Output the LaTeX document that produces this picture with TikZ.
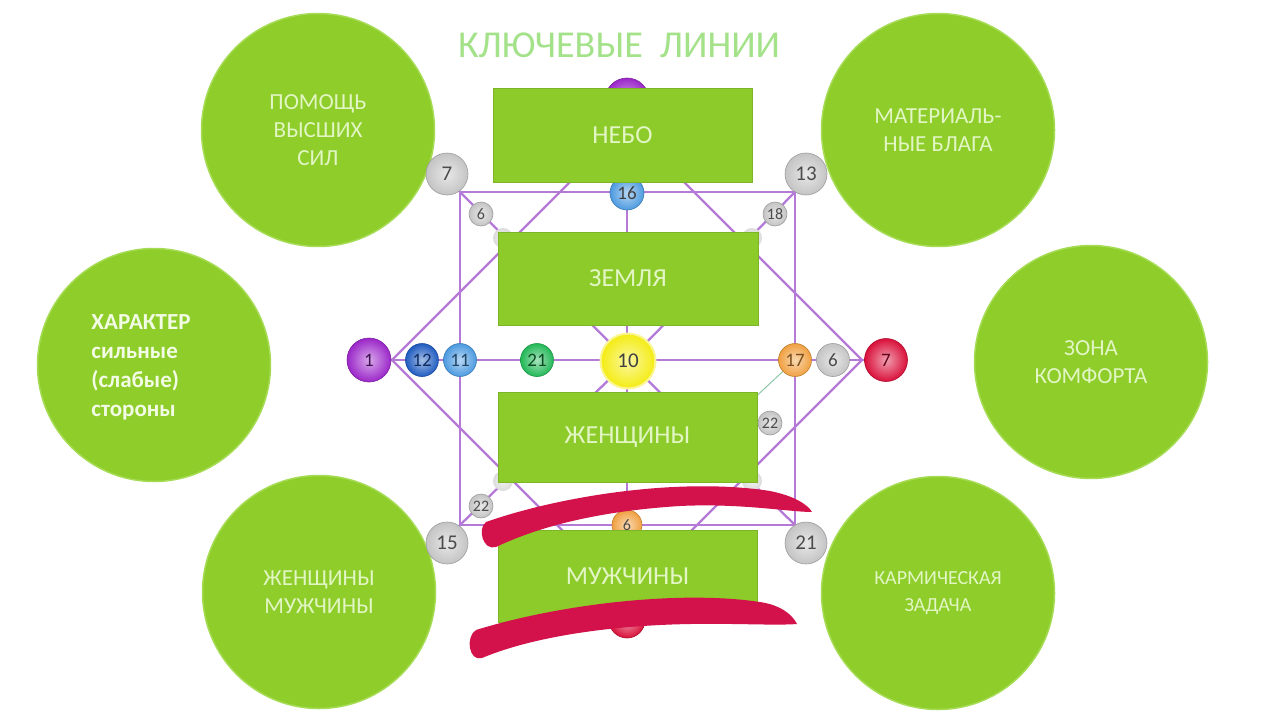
\documentclass[tikz,border=0pt]{standalone}
\usepackage{fontspec}
\setmainfont{Carlito}
\definecolor{cg}{HTML}{8FCD2B}
\definecolor{cgedge}{HTML}{A6DC55}
\definecolor{rg}{HTML}{8DCB2A}
\definecolor{rgedge}{HTML}{7DB528}
\definecolor{ctxt}{HTML}{E2F6C4}
\definecolor{ctxtb}{HTML}{F2FCE4}
\definecolor{pl}{HTML}{B57AD8}
\definecolor{tl}{HTML}{8FC8A8}
\definecolor{ttl}{HTML}{A4E28A}
\definecolor{scr}{HTML}{D3124B}
\definecolor{bgrey}{HTML}{C4C4C4}
\definecolor{bpurple}{HTML}{9B27C9}
\definecolor{bdblue}{HTML}{1F5CC0}
\definecolor{blblue}{HTML}{4C9AE0}
\definecolor{bgreen}{HTML}{22B857}
\definecolor{byellow}{HTML}{F4EC12}
\definecolor{borange}{HTML}{F0A040}
\definecolor{bred}{HTML}{D9103A}
\tikzset{
  bigc/.style={circle, fill=cg, draw=cgedge, line width=1.5pt, minimum size=233pt, inner sep=0pt, text=ctxt, align=center, font=\fontsize{23}{28}\selectfont},
  rectb/.style={rectangle, fill=rg, draw=rgedge, line width=1pt, inner sep=0pt, text=ctxt, font=\fontsize{26}{30}\selectfont},
  pline/.style={draw=pl, line width=2.3pt},
  tline/.style={draw=tl, line width=1pt},
  numball/.style={circle, inner sep=0pt, shading=radial, inner color=#1!40!white, outer color=#1, draw=#1!80!black, line width=0.6pt, font=\fontsize{19}{19}\selectfont},
  scrib/.style={fill=scr},
}
\begin{document}
\begin{tikzpicture}[x=1pt,y=-1pt]
\useasboundingbox (0,0) rectangle (1280,720);
\fill[white] (0,0) rectangle (1280,720);
% coordinates
\coordinate (p1) at (369,360);
\coordinate (p12) at (422,360);
\coordinate (p11) at (460,360);
\coordinate (p21) at (537,360);
\coordinate (p10) at (628,361);
\coordinate (p17) at (795,360);
\coordinate (p6r) at (833,360);
\coordinate (p7r) at (886,360);
\coordinate (sTL) at (460,192);
\coordinate (sTR) at (795,192);
\coordinate (sBL) at (460,525);
\coordinate (sBR) at (795,525);
\coordinate (c7) at (447,174);
\coordinate (c13) at (806,174);
\coordinate (c15) at (447,543);
\coordinate (c21) at (806,543);
\coordinate (dL) at (392,360);
\coordinate (dT) at (627,125);
\coordinate (dR) at (862,360);
\coordinate (dB) at (627,595);
\coordinate (vTop) at (627,100);
\coordinate (p16) at (627,193);
\coordinate (p6b) at (627,525);
\coordinate (vBot) at (627,620);
\coordinate (l6) at (481,214);
\coordinate (l18) at (775,214);
\coordinate (l22a) at (481,506);
\coordinate (l22b) at (770,423);
\coordinate (h1) at (503,238);
\coordinate (h2) at (752,238);
\coordinate (h3) at (503,481);
\coordinate (h4) at (752,481);
\coordinate (tEnd) at (748,404);
% big circles
\node[bigc] (cTL) at (318,130) {ПОМОЩЬ\\ВЫСШИХ\\СИЛ};
\node[bigc] (cML) at (154,365) {};
\node[font=\bfseries\fontsize{23}{29}\selectfont, text=ctxtb, align=left, inner sep=0pt] (cMLt) at (141,367) {ХАРАКТЕР\\сильные\\(слабые)\\стороны};
\node[bigc] (cBL) at (319,592) {ЖЕНЩИНЫ\\МУЖЧИНЫ};
\node[bigc] (cTR) at (938,130) {МАТЕРИАЛЬ-\\НЫЕ БЛАГА};
\node[bigc] (cMR) at (1091,362) {ЗОНА\\КОМФОРТА};
\node[bigc, font=\fontsize{20}{27}\selectfont] (cBR) at (938,593) {КАРМИЧЕСКАЯ\\ЗАДАЧА};
% lines
\draw[pline] (sTL) rectangle (sBR);
\draw[pline] (p1) -- (p7r);
\draw[pline] (dL) -- (dT) -- (dR) -- (dB) -- cycle;
\draw[pline] (vTop) -- (vBot);
\draw[pline] (c7) -- (sTL) -- (p10);
\draw[pline] (c13) -- (sTR) -- (p10);
\draw[pline] (c15) -- (sBL) -- (p10);
\draw[pline] (c21) -- (sBR) -- (p10);
\draw[tline] (p17) -- (tEnd);
% hidden balls
\node[numball=bpurple, minimum size=44pt] (nTop) at (vTop) {};
\node[numball=bred, minimum size=36pt] (nBot) at (vBot) {};
\node[numball=blblue, minimum size=34pt, text=black!75] (n16) at (p16) {16};
\node[numball=borange, minimum size=30pt, text=black!70, font=\fontsize{16}{16}\selectfont] (n6b) at (p6b) {6};
\foreach \h in {h1,h2,h3,h4} \node[numball=bgrey!60!white, draw=none, minimum size=20pt] (n\h) at (\h) {};
% rectangles
\node[rectb, minimum width=259pt, minimum height=94pt] (neb) at (622.5,135) {НЕБО};
\node[rectb, minimum width=260pt, minimum height=93pt] (zem) at (628,278.5) {ЗЕМЛЯ};
\node[rectb, minimum width=259pt, minimum height=90pt] (zhen) at (627.5,437) {ЖЕНЩИНЫ};
\node[rectb, minimum width=259pt, minimum height=92pt] (muzh) at (627.5,576) {МУЖЧИНЫ};
% visible balls
\node[numball=bpurple, minimum size=44pt, text=black!60!bpurple] (n1) at (p1) {1};
\node[numball=bdblue, minimum size=33pt, text=black!50!bdblue] (n12) at (p12) {12};
\node[numball=blblue, minimum size=33pt, text=black!55!blblue] (n11) at (p11) {11};
\node[numball=bgreen, minimum size=33pt, text=black!60!bgreen] (n21) at (p21) {21};
\node[numball=byellow, draw=byellow!45!white, line width=2pt, minimum size=55pt, text=black!75, font=\fontsize{21}{21}\selectfont] (n10) at (p10) {10};
\node[numball=borange, minimum size=33pt, text=black!50!borange] (n17) at (p17) {17};
\node[numball=bgrey, minimum size=33pt, text=black!70] (n6r) at (p6r) {6};
\node[numball=bred, minimum size=43pt, text=black!55!bred] (n7r) at (p7r) {7};
\node[numball=bgrey, minimum size=42pt, text=black!70, font=\fontsize{21}{21}\selectfont] (n7) at (c7) {7};
\node[numball=bgrey, minimum size=42pt, text=black!70, font=\fontsize{21}{21}\selectfont] (n13) at (c13) {13};
\node[numball=bgrey, minimum size=42pt, text=black!70, font=\fontsize{21}{21}\selectfont] (n15) at (c15) {15};
\node[numball=bgrey, minimum size=42pt, text=black!70, font=\fontsize{21}{21}\selectfont] (n21c) at (c21) {21};
\node[numball=bgrey, minimum size=24pt, text=black!70, font=\fontsize{16}{16}\selectfont] (nl6) at (l6) {6};
\node[numball=bgrey, minimum size=24pt, text=black!70, font=\fontsize{16}{16}\selectfont] (nl18) at (l18) {18};
\node[numball=bgrey, minimum size=24pt, text=black!70, font=\fontsize{16}{16}\selectfont] (nl22a) at (l22a) {22};
\node[numball=bgrey, minimum size=24pt, text=black!70, font=\fontsize{16}{16}\selectfont] (nl22b) at (l22b) {22};
% scribbles
\fill[scrib] (486,522) .. controls (560,496) and (680,477) .. (770,491) .. controls (795,496) and (808,505) .. (812,512) .. controls (790,512) and (740,503) .. (680,506) .. controls (600,511) and (540,526) .. (496,547) .. controls (483,551) and (477,529) .. (486,522) -- cycle;
\fill[scrib] (476,630) .. controls (560,604) and (680,590) .. (760,602) .. controls (780,605) and (792,614) .. (797,624) .. controls (770,626) and (720,622) .. (660,625) .. controls (580,629) and (520,642) .. (482,658) .. controls (469,662) and (465,637) .. (476,630) -- cycle;
% title
\node[font=\fontsize{38}{44}\selectfont, text=ttl] (title) at (619,45) {КЛЮЧЕВЫЕ \ ЛИНИИ};
\end{tikzpicture}
\end{document}
